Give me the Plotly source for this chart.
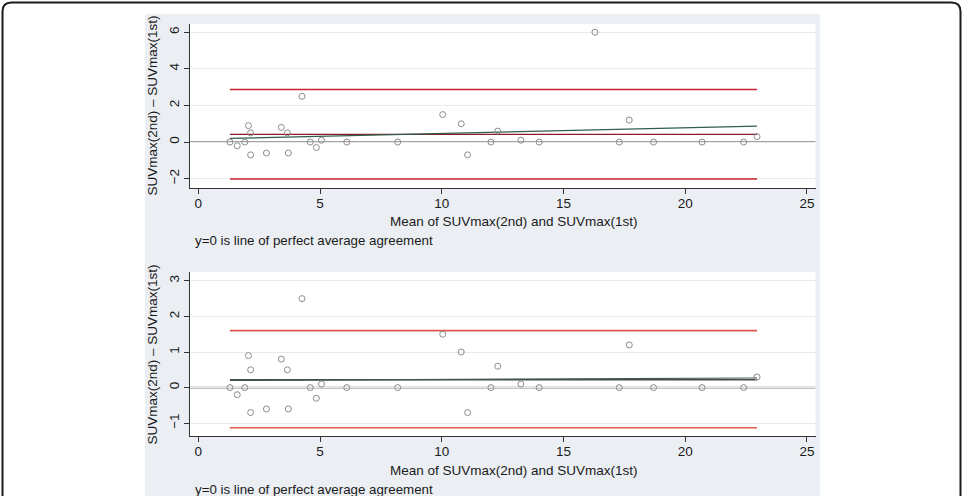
import plotly.graph_objects as go

W, H = 963, 496

# ---- data ----
mean_top = [1.30, 1.60, 1.91, 2.06, 2.15, 2.15, 2.80, 3.41, 3.66, 3.70, 4.26, 4.60, 4.85, 5.06,
            6.10, 8.19, 10.04, 10.80, 11.06, 12.02, 12.30, 13.25, 14.00, 16.29, 17.29, 17.70,
            18.70, 20.69, 22.40, 22.95]
diff_top = [0.0, -0.2, 0.0, 0.9, 0.5, -0.7, -0.6, 0.8, 0.5, -0.6, 2.5, 0.0, -0.3, 0.1,
            0.0, 0.0, 1.5, 1.0, -0.7, 0.0, 0.6, 0.1, 0.0, 6.0, 0.0, 1.2,
            0.0, 0.0, 0.0, 0.3]
mean_bot = [1.30, 1.60, 1.91, 2.06, 2.15, 2.15, 2.80, 3.41, 3.66, 3.70, 4.26, 4.60, 4.85, 5.06,
            6.10, 8.19, 10.04, 10.80, 11.06, 12.02, 12.30, 13.25, 14.00, 17.29, 17.70,
            18.70, 20.69, 22.40, 22.95]
diff_bot = [0.0, -0.2, 0.0, 0.9, 0.5, -0.7, -0.6, 0.8, 0.5, -0.6, 2.5, 0.0, -0.3, 0.1,
            0.0, 0.0, 1.5, 1.0, -0.7, 0.0, 0.6, 0.1, 0.0, 0.0, 1.2,
            0.0, 0.0, 0.0, 0.3]

line_x = [1.30, 22.95]
top_mean_diff, top_upper, top_lower = 0.42, 2.87, -2.02
bot_mean_diff, bot_upper, bot_lower = 0.22, 1.60, -1.13
top_reg = [0.20, 0.87]
bot_reg = [0.20, 0.27]

x_ticks = [0, 5, 10, 15, 20, 25]
y_ticks_top = [-2, 0, 2, 4, 6]
y_ticks_bot = [-1, 0, 1, 2, 3]

x_title = "Mean of SUVmax(2nd) and SUVmax(1st)"
y_title = "SUVmax(2nd) \u2013 SUVmax(1st)"
note = "y=0 is line of perfect average agreement"

# ---- geometry helpers (pixels -> paper) ----
def px(x):
    return x / W

def py(y):
    return 1 - y / H

FONT = "Liberation Sans, Arial, sans-serif"
GRAY_BG = "#ebeff3"

fig = go.Figure()

panels = [
    dict(xa="x", ya="y", mx=mean_top, dy=diff_top, md=top_mean_diff, up=top_upper, lo=top_lower,
         reg=top_reg, red="#c8232c", meanc="#8b1a2b", regc="#2f5e4a"),
    dict(xa="x2", ya="y2", mx=mean_bot, dy=diff_bot, md=bot_mean_diff, up=bot_upper, lo=bot_lower,
         reg=bot_reg, red="#e0574c", meanc="#4a4a4a", regc="#3d5c4c"),
]

for p in panels:
    fig.add_trace(go.Scatter(x=line_x, y=[p["up"], p["up"]], mode="lines",
                             line=dict(color=p["red"], width=1.6), xaxis=p["xa"], yaxis=p["ya"],
                             showlegend=False, hoverinfo="skip"))
    fig.add_trace(go.Scatter(x=line_x, y=[p["lo"], p["lo"]], mode="lines",
                             line=dict(color=p["red"], width=1.6), xaxis=p["xa"], yaxis=p["ya"],
                             showlegend=False, hoverinfo="skip"))
    fig.add_trace(go.Scatter(x=line_x, y=[p["md"], p["md"]], mode="lines",
                             line=dict(color=p["meanc"], width=1.4), xaxis=p["xa"], yaxis=p["ya"],
                             showlegend=False, hoverinfo="skip"))
    fig.add_trace(go.Scatter(x=line_x, y=p["reg"], mode="lines",
                             line=dict(color=p["regc"], width=1.2), xaxis=p["xa"], yaxis=p["ya"],
                             showlegend=False, hoverinfo="skip"))
    fig.add_trace(go.Scatter(x=p["mx"], y=p["dy"], mode="markers",
                             marker=dict(symbol="circle-open", size=6, color="#8c8c8c",
                                         line=dict(width=1, color="#8c8c8c")),
                             xaxis=p["xa"], yaxis=p["ya"], showlegend=False))

shapes = []
# outer journal frame with rounded corners (extends below the image)
r = 9
x0, x1, y0, y1 = 2.5, 960.5, 2.5, 520
path = (f"M {px(x0)},{py(y0 + r)} Q {px(x0)},{py(y0)} {px(x0 + r)},{py(y0)} "
        f"L {px(x1 - r)},{py(y0)} Q {px(x1)},{py(y0)} {px(x1)},{py(y0 + r)} "
        f"L {px(x1)},{py(y1)} L {px(x0)},{py(y1)} Z")
shapes.append(dict(type="path", xref="paper", yref="paper", path=path,
                   line=dict(color="#1a1a1a", width=2), fillcolor="white", layer="below"))
# graph region background
shapes.append(dict(type="rect", xref="paper", yref="paper", x0=px(145), x1=px(820),
                   y0=py(520), y1=py(14), fillcolor=GRAY_BG, line=dict(width=0), layer="below"))
# plot region backgrounds
for (t, b) in [(24, 188), (272, 436)]:
    shapes.append(dict(type="rect", xref="paper", yref="paper", x0=px(190), x1=px(815.5),
                       y0=py(b), y1=py(t), fillcolor="white", line=dict(width=0), layer="below"))
# zero reference lines across full plot width
for (xr, yr) in [("x domain", "y"), ("x2 domain", "y2")]:
    shapes.append(dict(type="line", xref=xr, yref=yr, x0=0, x1=1, y0=0, y1=0,
                       line=dict(color="#858585", width=1.7), layer="below"))

ann = []
for (cx, cy) in [(514, 221), (514, 470)]:
    ann.append(dict(text=x_title, x=px(cx), y=py(cy), xref="paper", yref="paper",
                    showarrow=False, xanchor="center", yanchor="middle",
                    font=dict(family=FONT, size=13.5, color="#1a1a1a")))
for (cx, cy) in [(151.5, 106), (151.5, 355)]:
    ann.append(dict(text=y_title, x=px(cx), y=py(cy), xref="paper", yref="paper",
                    showarrow=False, xanchor="center", yanchor="middle", textangle=-90,
                    font=dict(family=FONT, size=13.5, color="#1a1a1a")))
for (lx, ly) in [(192.5, 240), (192.5, 489)]:
    ann.append(dict(text=note, x=px(lx), y=py(ly), xref="paper", yref="paper",
                    showarrow=False, xanchor="left", yanchor="middle",
                    font=dict(family=FONT, size=13.3, color="#1a1a1a")))

xrange = [-0.34, 25.35]
common_x = dict(range=xrange, tickvals=x_ticks, ticks="outside", ticklen=5, tickwidth=1,
                tickcolor="#333", showline=True, linecolor="#333", linewidth=1.2,
                showgrid=False, zeroline=False, fixedrange=True, ticklabelstandoff=-2,
                tickfont=dict(family=FONT, size=13.5, color="#1a1a1a"))
common_y = dict(ticks="outside", ticklen=5, tickwidth=1, tickcolor="#333",
                showline=True, linecolor="#333", linewidth=1.2, showgrid=True,
                gridcolor="#e9e9e9", gridwidth=1, zeroline=False, tickangle=-90,
                fixedrange=True, tickfont=dict(family=FONT, size=13.5, color="#1a1a1a"))

fig.update_layout(
    width=W, height=H,
    margin=dict(l=0, r=0, t=0, b=0, autoexpand=False),
    paper_bgcolor="white", plot_bgcolor="rgba(0,0,0,0)",
    shapes=shapes, annotations=ann,
    xaxis=dict(domain=[px(190), px(815.5)], anchor="y", **common_x),
    yaxis=dict(domain=[py(188), py(24)], anchor="x", range=[-2.51, 6.45],
               tickvals=y_ticks_top, **common_y),
    xaxis2=dict(domain=[px(190), px(815.5)], anchor="y2", **common_x),
    yaxis2=dict(domain=[py(436), py(272.3)], anchor="x2", range=[-1.36, 3.24],
                tickvals=y_ticks_bot, **common_y),
)

fig.write_html("out.html")
